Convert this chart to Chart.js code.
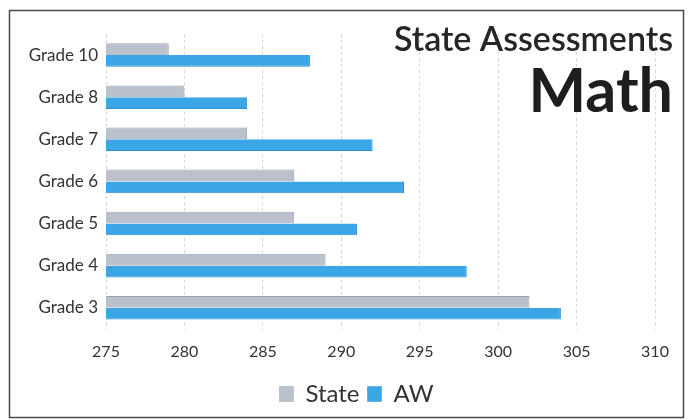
<!DOCTYPE html>
<html>
<head>
<meta charset="utf-8">
<script src="https://cdn.jsdelivr.net/npm/chart.js@4.4.1/dist/chart.umd.min.js"></script>
<style>
  html, body { margin: 0; padding: 0; background: #ffffff; }
  #wrap { position: relative; width: 688px; height: 420px; }
</style>
</head>
<body>
<div id="wrap"><canvas id="chart" width="688" height="420"></canvas></div>
<script>
// Grades, top to bottom
const grades = ['Grade 10', 'Grade 8', 'Grade 7', 'Grade 6', 'Grade 5', 'Grade 4', 'Grade 3'];
// Mean scale scores
const stateScores = [279, 280, 284, 287, 287, 289, 302];
const awScores = [288, 284, 292, 294, 291, 298, 304];
// Score axis
const axisMin = 275;
const axisMax = 310;
const axisStep = 5;

const titleLine1 = 'State Assessments';
const titleLine2 = 'Math';

const FONT = 'Lato, "Open Sans", sans-serif';

// Outer frame around the whole graphic
const framePlugin = {
  id: 'frame',
  beforeDraw(chart) {
    const ctx = chart.ctx;
    ctx.save();
    ctx.fillStyle = '#ffffff';
    ctx.fillRect(0, 0, chart.width, chart.height);
    ctx.strokeStyle = '#4a4a4a';
    ctx.lineWidth = 1.5;
    ctx.strokeRect(9.5, 10.5, 674, 407);
    ctx.restore();
  }
};

// Nudge the legend so it sits under the middle of the plot
const legendShift = {
  id: 'legendShift',
  afterLayout(chart) {
    const lg = chart.legend;
    if (lg) { lg.left += 24; lg.right += 24; }
  }
};

// Two-line heading set in the upper right of the plot
const headingPlugin = {
  id: 'heading',
  afterDraw(chart) {
    const ctx = chart.ctx;
    const right = 673;
    ctx.save();
    ctx.textAlign = 'right';
    ctx.textBaseline = 'alphabetic';
    ctx.fillStyle = '#262626';
    ctx.font = '600 34px ' + FONT;
    ctx.fillText(titleLine1, right, 51);
    ctx.fillStyle = '#1e1e1e';
    ctx.font = 'bold 61px ' + FONT;
    ctx.fillText(titleLine2, right, 112);
    ctx.restore();
  }
};

new Chart(document.getElementById('chart'), {
  type: 'bar',
  data: {
    labels: grades,
    datasets: [
      {
        label: 'State',
        data: stateScores,
        backgroundColor: '#bac1cd',
        borderColor: '#9aa1ad',
        borderWidth: { top: 1, right: 1, bottom: 0, left: 0 },
        borderSkipped: false
      },
      {
        label: 'AW',
        data: awScores,
        backgroundColor: '#3ba6e6',
        borderColor: '#2f8fcb',
        borderWidth: { top: 0, right: 1, bottom: 1, left: 0 },
        borderSkipped: false
      }
    ]
  },
  options: {
    indexAxis: 'y',
    responsive: false,
    animation: false,
    devicePixelRatio: 1,
    categoryPercentage: 0.56,
    barPercentage: 1.0,
    layout: { padding: { left: 10, right: 33, top: 34, bottom: 4 } },
    scales: {
      x: {
        min: axisMin,
        max: axisMax,
        ticks: {
          stepSize: axisStep,
          color: '#333333',
          font: { family: FONT, size: 16 },
          padding: 13
        },
        grid: {
          color: '#d8d8d8',
          lineWidth: 1,
          drawTicks: false
        },
        border: { display: false, dash: [3, 3] }
      },
      y: {
        ticks: {
          color: '#333333',
          font: { family: FONT, size: 17 },
          padding: 8
        },
        grid: { display: false, drawTicks: false },
        border: { display: false },
        afterFit(scale) { scale.width = 96; }
      }
    },
    plugins: {
      legend: {
        position: 'bottom',
        labels: {
          color: '#333333',
          font: { family: FONT, size: 24 },
          boxWidth: 14,
          boxHeight: 15,
          padding: 8
        }
      },
      tooltip: { enabled: false }
    }
  },
  plugins: [framePlugin, legendShift, headingPlugin]
});
</script>
</body>
</html>
